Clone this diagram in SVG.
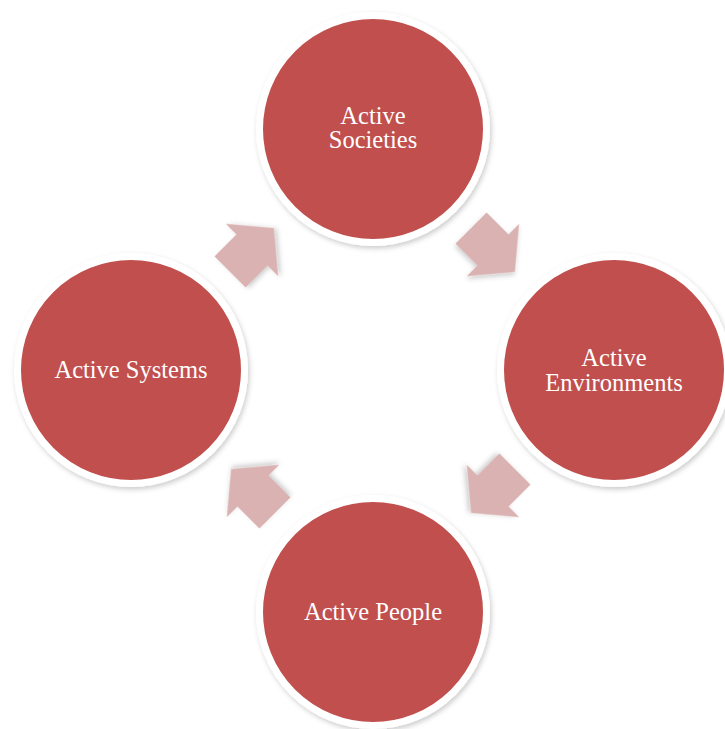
<svg xmlns="http://www.w3.org/2000/svg" width="725" height="729" viewBox="0 0 725 729">
  <defs>
    <filter id="sh" x="-20%" y="-20%" width="140%" height="140%">
      <feDropShadow dx="1.5" dy="2.5" stdDeviation="2.5" flood-color="#000" flood-opacity="0.2"/>
    </filter>
    <path id="arr" d="M-31,-22 L0,-22 L0,-37 L31,0 L0,37 L0,22 L-31,22 Z"/>
  </defs>
  <style>
    .node circle { fill: #C0504D; stroke: #FFFFFF; stroke-width: 7; filter: url(#sh); }
    .node text { fill: #FFFFFF; font-family: "Liberation Serif", "DejaVu Serif", serif; font-size: 24.5px; text-anchor: middle; }
    .conn use { fill: #DBB2B2; filter: url(#sh); }
  </style>
  <rect width="725" height="729" fill="#FFFFFF"/>
  <g id="connectors" class="conn">
    <use href="#arr" transform="translate(493,250) rotate(45)"/>
    <use href="#arr" transform="translate(493,491) rotate(135)"/>
    <use href="#arr" transform="translate(253,491) rotate(225)"/>
    <use href="#arr" transform="translate(252,250) rotate(315)"/>
  </g>
  <g id="node-societies" class="node">
    <circle cx="373" cy="129" r="113.5"/>
    <text x="373" y="123.5">Active</text>
    <text x="373" y="148">Societies</text>
  </g>
  <g id="node-environments" class="node">
    <circle cx="614" cy="370" r="113.5"/>
    <text x="614" y="365.5">Active</text>
    <text x="614" y="390.5">Environments</text>
  </g>
  <g id="node-people" class="node">
    <circle cx="373" cy="612" r="113.5"/>
    <text x="373" y="620">Active People</text>
  </g>
  <g id="node-systems" class="node">
    <circle cx="131" cy="370" r="113.5"/>
    <text x="131" y="377.5">Active Systems</text>
  </g>
</svg>
